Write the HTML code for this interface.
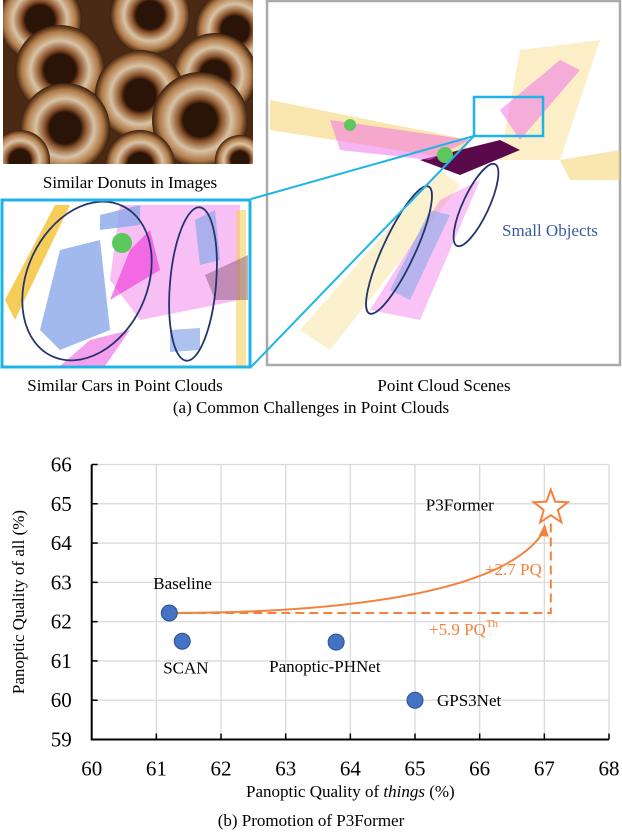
<!DOCTYPE html>
<html><head><meta charset="utf-8"><style>
body{margin:0;background:#fff;}
svg{display:block;font-family:"Liberation Serif",serif;}
</style></head><body>
<svg id="fig" width="622" height="832" viewBox="0 0 622 832" xmlns="http://www.w3.org/2000/svg">
<defs>
<radialGradient id="dn" cx="50%" cy="50%" r="50%">
<stop offset="0.35" stop-color="#2a1408"/><stop offset="0.45" stop-color="#8a5128"/><stop offset="0.65" stop-color="#d9c3a6"/><stop offset="0.85" stop-color="#b07a48"/><stop offset="1" stop-color="#3a1e0c"/>
</radialGradient>
<clipPath id="dclip"><rect x="3" y="0" width="250" height="164"/></clipPath>
</defs>
<g clip-path="url(#dclip)">
<rect x="3" y="0" width="250" height="164" fill="#4a2a14"/>
<circle cx="40" cy="20" r="42" fill="url(#dn)"/><circle cx="150" cy="15" r="40" fill="url(#dn)"/><circle cx="235" cy="30" r="40" fill="url(#dn)"/>
<circle cx="60" cy="70" r="45" fill="url(#dn)"/><circle cx="215" cy="75" r="42" fill="url(#dn)"/>
<circle cx="140" cy="95" r="45" fill="url(#dn)"/><circle cx="65" cy="128" r="45" fill="url(#dn)"/><circle cx="200" cy="120" r="48" fill="url(#dn)"/>
<circle cx="20" cy="160" r="30" fill="url(#dn)"/><circle cx="140" cy="165" r="35" fill="url(#dn)"/><circle cx="240" cy="160" r="25" fill="url(#dn)"/>
</g>
<text x="130" y="188" font-size="17" text-anchor="middle">Similar Donuts in Images</text>

<g>
<rect x="267" y="1" width="353" height="364" fill="#fff" stroke="#aaa" stroke-width="2.5"/>
<polygon points="270,100 470,140 460,160 270,130" fill="#f5d060" opacity="0.5"/>
<polygon points="520,50 600,40 560,160 500,160" fill="#f5d060" opacity="0.35"/>
<polygon points="300,330 440,170 460,185 330,350" fill="#f5d060" opacity="0.3"/>
<polygon points="420,160 500,140 520,150 460,175" fill="#5a0a4a"/>
<polygon points="330,120 470,140 430,160 340,150" fill="#ef6ae8" opacity="0.5"/>
<polygon points="500,110 560,60 580,70 520,140" fill="#ef6ae8" opacity="0.5"/>
<polygon points="370,310 440,200 480,180 420,320" fill="#ef6ae8" opacity="0.4"/>
<polygon points="390,290 430,210 450,215 410,300" fill="#8aa8e8" opacity="0.6"/>
<circle cx="445" cy="155" r="8" fill="#5cc85c"/><circle cx="350" cy="125" r="6" fill="#5cc85c"/>
<polygon points="560,160 620,150 620,180 570,180" fill="#f5d060" opacity="0.5"/>
<rect x="474" y="97" width="69" height="39" fill="none" stroke="#1fb4e8" stroke-width="2.5"/>
<ellipse cx="399" cy="250" rx="16" ry="70" transform="rotate(25 399 250)" fill="none" stroke="#24356e" stroke-width="1.8"/>
<ellipse cx="476" cy="205" rx="13" ry="45" transform="rotate(25 476 205)" fill="none" stroke="#24356e" stroke-width="1.8"/>
<text x="502" y="236" font-size="17" fill="#3a5aa0">Small Objects</text>
</g>
<line x1="251" y1="199" x2="474" y2="136" stroke="#1fb4e8" stroke-width="2"/>
<line x1="251" y1="367" x2="474" y2="136" stroke="#1fb4e8" stroke-width="2"/>

<g>
<rect x="2" y="200" width="248" height="167" fill="#fff"/>
<polygon points="5,300 55,205 70,205 15,320" fill="#f5c030" opacity="0.8"/>
<polygon points="120,205 240,205 240,300 140,320 110,280" fill="#f070e8" opacity="0.45"/>
<polygon points="130,250 150,230 160,270 110,300" fill="#ee30d8" opacity="0.6"/>
<polygon points="60,250 100,240 110,330 60,350 40,330" fill="#8aa8e8" opacity="0.8"/>
<polygon points="100,215 140,205 140,225 100,230" fill="#8aa8e8" opacity="0.8"/>
<polygon points="195,220 215,210 220,260 200,265" fill="#8aa8e8" opacity="0.7"/>
<polygon points="170,330 200,328 200,350 170,352" fill="#8aa8e8" opacity="0.7"/>
<polygon points="90,340 130,330 105,366 60,366" fill="#ee60e0" opacity="0.6"/>
<circle cx="122" cy="243" r="10" fill="#5cc85c"/>
<polygon points="236,210 246,210 246,366 236,366" fill="#f5d060" opacity="0.6"/>
<polygon points="205,275 248,255 248,300 215,300" fill="#8a5a7a" opacity="0.5"/>
<ellipse cx="87" cy="281" rx="60" ry="83" transform="rotate(25 87 281)" fill="none" stroke="#24356e" stroke-width="1.8"/>
<ellipse cx="193" cy="284" rx="23" ry="77" transform="rotate(5 193 284)" fill="none" stroke="#24356e" stroke-width="1.8"/>
<rect x="2" y="200" width="248" height="167" fill="none" stroke="#1fb4e8" stroke-width="3"/>
</g>
<text x="125" y="391" font-size="17" text-anchor="middle">Similar Cars in Point Clouds</text>
<text x="444" y="391" font-size="17" text-anchor="middle">Point Cloud Scenes</text>
<text x="311" y="413" font-size="17" text-anchor="middle">(a) Common Challenges in Point Clouds</text>

<g id="chart"></g>
<text x="311" y="826" font-size="17" text-anchor="middle">(b) Promotion of P3Former</text>
</svg>
<script>
const methods = ["Baseline","SCAN","Panoptic-PHNet","GPS3Net"];
const pqThings = [61.2, 61.4, 63.78, 65.0];
const pqAll = [62.22, 61.5, 61.48, 60.0];
const oursName = "P3Former";
const oursThings = 67.1;
const oursAll = 64.9;
const xTicks = [60,61,62,63,64,65,66,67,68];
const yTicks = [59,60,61,62,63,64,65,66];
const labelOffsets = [[-16,-24],[-19,32],[-67,30],[22,6]];

const NS="http://www.w3.org/2000/svg";
const g=document.getElementById('chart');
const X0=91.7,X1=609,Y0=739.5,Y1=464.5;
const sx=v=>X0+(v-60)/(68-60)*(X1-X0);
const sy=v=>Y0-(v-59)/(66-59)*(Y0-Y1);
function mk(t,a,p){const e=document.createElementNS(NS,t);for(const k in a)e.setAttribute(k,a[k]);(p||g).appendChild(e);return e;}
xTicks.forEach(v=>{
 const l=mk('line',{x1:sx(v),x2:sx(v),y1:Y1,y2:Y0,stroke:'#d9d9d9','stroke-width':1.3});
 
 
 const t=mk('text',{x:sx(v),y:Y0+36,'font-size':21,'text-anchor':'middle'});t.textContent=v;
 
 
 mk('line',{x1:sx(v),x2:sx(v),y1:Y0,y2:Y0-6,stroke:'#000','stroke-width':1.5});
});
yTicks.forEach(v=>{
 const l=mk('line',{x1:X0,x2:X1,y1:sy(v),y2:sy(v),stroke:'#d9d9d9','stroke-width':1.3});
 
 
 const t=mk('text',{x:X0-20,y:sy(v)+7,'font-size':21,'text-anchor':'end'});t.textContent=v;
 
 
 mk('line',{x1:X0,x2:X0+6,y1:sy(v),y2:sy(v),stroke:'#000','stroke-width':1.5});
});
const ax=mk('path',{d:`M${X0},${Y1}V${Y0}H${X1}`,fill:'none',stroke:'#000','stroke-width':2});


const xt=mk('text',{x:(X0+X1)/2,y:797,'font-size':17,'text-anchor':'middle'});
xt.innerHTML='Panoptic Quality of <tspan font-style="italic">things</tspan> (%)';


const yt=mk('text',{x:0,y:0,'font-size':17,'text-anchor':'middle',transform:`translate(24,${(Y0+Y1)/2}) rotate(-90)`});
yt.textContent='Panoptic Quality of all (%)';



const col='#f4823c';
const bx=sx(pqThings[0]),by=sy(pqAll[0]),ox=sx(oursThings),oy=sy(oursAll);
const dash=mk('path',{d:`M${bx},${by}H${ox}V${oy+14}`,fill:'none',stroke:col,'stroke-width':2,'stroke-dasharray':'9,5'});


const ex=ox-6,ey=oy+22;
const cur=mk('path',{d:`M${bx},${by} C${bx+150},${by} ${ex-40},${by-15} ${ex},${ey}`,fill:'none',stroke:col,'stroke-width':2});


const ar=mk('polygon',{points:`${ex},${ey-6} ${ex-6},${ey+6} ${ex+4},${ey+7}`,fill:col});


const t1=mk('text',{x:ox-9,y:by-38,'font-size':17,fill:col,'text-anchor':'end'});t1.textContent='+2.7 PQ';


const t2=mk('text',{x:429,y:by+22,'font-size':17,fill:col});t2.innerHTML='+5.9 PQ<tspan font-size="11" dy="-8">Th</tspan>';



methods.forEach((m,i)=>{
 const c=mk('circle',{cx:sx(pqThings[i]),cy:sy(pqAll[i]),r:8,fill:'#4472c4',stroke:'#2f528f','stroke-width':1});
 
 
 const t=mk('text',{x:sx(pqThings[i])+labelOffsets[i][0],y:sy(pqAll[i])+labelOffsets[i][1],'font-size':17});t.textContent=m;
 
 
});
let pts=[];for(let k=0;k<10;k++){const r=k%2?7.5:18,a=-Math.PI/2+k*Math.PI/5;pts.push((ox+r*Math.cos(a)).toFixed(1)+','+(oy+r*Math.sin(a)).toFixed(1));}
const st=mk('polygon',{points:pts.join(' '),fill:'#fff',stroke:col,'stroke-width':2});


const ot=mk('text',{x:ox-125,y:oy+3,'font-size':17});ot.textContent=oursName;


</script>
</body></html>
